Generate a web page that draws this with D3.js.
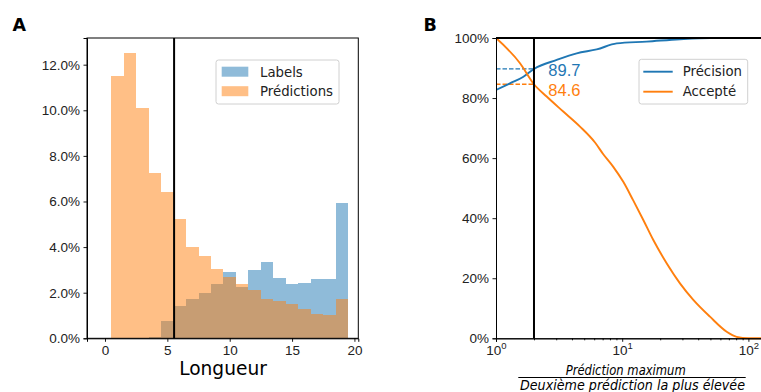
<!DOCTYPE html>
<html>
<head>
<meta charset="utf-8">
<script src="https://cdn.jsdelivr.net/npm/d3@7"></script>
<style>
  body { margin: 0; background: #fff; }
  svg { display: block; font-family: "DejaVu Sans", sans-serif; }
  .tick text { fill: #222; }
</style>
</head>
<body>
<svg id="chart" width="761" height="392"></svg>
<script>
// panel A : histogram of lengths
var lengths     = [ 1, 2, 3, 4, 5, 6, 7, 8, 9, 10, 11, 12, 13, 14, 15, 16, 17, 18, 19 ];
var labelPct    = [ 0, 0, 0.01, 0.07, 0.76, 1.42, 1.74, 2.0, 2.37, 2.89, 2.26, 3.0, 3.36, 2.64, 2.37, 2.43, 2.59, 2.59, 5.92 ];
var predPct     = [ 11.5, 12.53, 10.11, 7.24, 6.43, 5.22, 3.99, 3.6, 3.04, 2.68, 2.37, 2.1, 1.71, 1.62, 1.52, 1.3, 1.08, 1.04, 1.71 ];
var meanLength  = 5.54;
var xTicksA     = [ 0, 5, 10, 15, 20 ];
var yTicksA     = [ 0, 2, 4, 6, 8, 10, 12 ];

// panel B : precision / accepted vs ratio
var precRatio   = [ 1, 1.29, 1.65, 2.0, 3.03, 4.36, 6.28, 9.04, 15.6, 28.7, 50, 130 ];
var precValue   = [ 82.7, 84.9, 87.1, 89.7, 92.7, 94.9, 96.2, 98.2, 98.8, 99.6, 100, 100 ];
var accRatio    = [ 1, 1.55, 2, 2.52, 3.41, 4.63, 6.09, 7.08, 8.5, 10.2, 12.2, 14.7, 17.6, 22.5, 28.7, 36.6, 49.6, 67.3, 80.7, 100, 130 ];
var accValue    = [ 100, 91.6, 84.6, 80.5, 75.5, 70.5, 65.2, 61.3, 57.1, 52.1, 46.0, 39.4, 32.8, 25.0, 18.3, 12.8, 7.2, 2.2, 0.5, 0, 0 ];
var threshold   = 2;
var precAtThr   = 89.7;
var accAtThr    = 84.6;
var xTicksB     = [ 1, 10, 100 ];
var yTicksB     = [ 0, 20, 40, 60, 80, 100 ];

var blue   = '#1f77b4',
    orange = '#ff7f0e';

var svg = d3.select( '#chart' );

// ---------- panel A ----------
var xA = d3.scaleLinear().domain( [ -1.443, 20.31 ] ).range( [ 87, 358.3 ] );
var yA = d3.scaleLinear().domain( [ 0, 13.17 ] ).range( [ 338.3, 38 ] );

var gA = svg.append( 'g' );

function stepPoints( values ) {
	var pts = [];
	lengths.forEach( function( l, i ) {
		pts.push( [ l - 0.5, values[ i ] ] );
		pts.push( [ l + 0.5, values[ i ] ] );
	});
	return pts;
}

var histArea = d3.area()
	.x( function( d ) { return xA( d[ 0 ] ); } )
	.y0( yA( 0 ) )
	.y1( function( d ) { return yA( d[ 1 ] ); } );

gA.append( 'path' )
  .attr( 'd', histArea( stepPoints( labelPct ) ) )
  .attr( 'fill', blue ).attr( 'fill-opacity', 0.5 )
  .attr( 'shape-rendering', 'crispEdges' );

gA.append( 'path' )
  .attr( 'd', histArea( stepPoints( predPct ) ) )
  .attr( 'fill', orange ).attr( 'fill-opacity', 0.5 )
  .attr( 'shape-rendering', 'crispEdges' );

gA.append( 'line' )
  .attr( 'x1', xA( meanLength ) ).attr( 'x2', xA( meanLength ) )
  .attr( 'y1', yA.range()[ 0 ] ).attr( 'y2', yA.range()[ 1 ] )
  .attr( 'stroke', '#000' ).attr( 'stroke-width', 2 );

var xAxisA = d3.axisBottom( xA ).tickValues( xTicksA ).tickSize( 3.5 ).tickPadding( 3.5 );
var yAxisA = d3.axisLeft( yA ).tickValues( yTicksA ).tickSize( 3.5 ).tickPadding( 3.5 )
	.tickFormat( function( d ) { return d3.format( '.1f' )( d ) + '%'; } );

gA.append( 'g' ).attr( 'transform', 'translate(0,' + yA( 0 ) + ')' )
  .call( xAxisA ).call( styleAxis );
gA.append( 'g' ).attr( 'transform', 'translate(' + xA.range()[ 0 ] + ',0)' )
  .call( yAxisA ).call( styleAxis );

// frame
gA.append( 'rect' )
  .attr( 'x', xA.range()[ 0 ] ).attr( 'y', yA.range()[ 1 ] )
  .attr( 'width', xA.range()[ 1 ] - xA.range()[ 0 ] )
  .attr( 'height', yA.range()[ 0 ] - yA.range()[ 1 ] )
  .attr( 'fill', 'none' ).attr( 'stroke', '#000' ).attr( 'stroke-width', 1 );

gA.append( 'text' )
  .attr( 'x', 223 ).attr( 'y', 375 )
  .attr( 'text-anchor', 'middle' ).attr( 'font-size', 18.6 )
  .text( 'Longueur' );

// legend A
var legA = gA.append( 'g' );
legA.append( 'rect' )
  .attr( 'x', 216 ).attr( 'y', 60 ).attr( 'width', 123 ).attr( 'height', 44 )
  .attr( 'rx', 2.5 ).attr( 'fill', '#fff' ).attr( 'fill-opacity', 0.8 )
  .attr( 'stroke', '#d0d0d0' );
[ [ 'Labels', blue ], [ 'Prédictions', orange ] ].forEach( function( d, i ) {
	legA.append( 'rect' )
	  .attr( 'x', 221.7 ).attr( 'y', 66.7 + i * 19.5 ).attr( 'width', 26.6 ).attr( 'height', 10 )
	  .attr( 'fill', d[ 1 ] ).attr( 'fill-opacity', 0.5 );
	legA.append( 'text' )
	  .attr( 'x', 260 ).attr( 'y', 76.5 + i * 19.5 )
	  .attr( 'font-size', 13.3 ).attr( 'fill', '#222' )
	  .text( d[ 0 ] );
});

svg.append( 'text' )
  .attr( 'x', 12.5 ).attr( 'y', 30.7 )
  .attr( 'font-size', 17.5 ).attr( 'font-weight', 'bold' )
  .text( 'A' );

// ---------- panel B ----------
var xB = d3.scaleLog().domain( [ 1, Math.pow( 10, ( 762 - 496 ) / 126.2 ) ] ).range( [ 496, 762 ] );
var yB = d3.scaleLinear().domain( [ 0, 100 ] ).range( [ 338.3, 38 ] );

var gB = svg.append( 'g' );

svg.append( 'clipPath' ).attr( 'id', 'clipB' ).append( 'rect' )
  .attr( 'x', 496 ).attr( 'y', 30 ).attr( 'width', 270 ).attr( 'height', 312 );

var precData = precRatio.map( function( r, i ) { return [ r, precValue[ i ] ]; } );
var accData  = accRatio.map( function( r, i ) { return [ r, accValue[ i ] ]; } );

var line = d3.line()
	.x( function( d ) { return xB( d[ 0 ] ); } )
	.y( function( d ) { return yB( d[ 1 ] ); } )
	.curve( d3.curveMonotoneX );

var plotB = gB.append( 'g' ).attr( 'clip-path', 'url(#clipB)' );

// threshold guides
plotB.append( 'line' )
  .attr( 'x1', xB( 1 ) ).attr( 'x2', xB( threshold ) )
  .attr( 'y1', yB( precAtThr ) ).attr( 'y2', yB( precAtThr ) )
  .attr( 'stroke', blue ).attr( 'stroke-width', 1.3 ).attr( 'stroke-dasharray', '4.5,2' );
plotB.append( 'line' )
  .attr( 'x1', xB( 1 ) ).attr( 'x2', xB( threshold ) )
  .attr( 'y1', yB( accAtThr ) ).attr( 'y2', yB( accAtThr ) )
  .attr( 'stroke', orange ).attr( 'stroke-width', 1.3 ).attr( 'stroke-dasharray', '4.5,2' );

plotB.append( 'path' ).attr( 'd', line( precData ) )
  .attr( 'fill', 'none' ).attr( 'stroke', blue ).attr( 'stroke-width', 1.9 );
plotB.append( 'path' ).attr( 'd', line( accData ) )
  .attr( 'fill', 'none' ).attr( 'stroke', orange ).attr( 'stroke-width', 1.9 );

gB.append( 'line' )
  .attr( 'x1', xB( threshold ) ).attr( 'x2', xB( threshold ) )
  .attr( 'y1', yB( 0 ) ).attr( 'y2', yB( 100 ) )
  .attr( 'stroke', '#000' ).attr( 'stroke-width', 2 );
gB.append( 'line' )
  .attr( 'x1', xB( 1 ) ).attr( 'x2', 762 )
  .attr( 'y1', yB( 100 ) ).attr( 'y2', yB( 100 ) )
  .attr( 'stroke', '#000' ).attr( 'stroke-width', 2 );

gB.append( 'text' )
  .attr( 'x', 548.3 ).attr( 'y', 76 )
  .attr( 'font-family', '"Liberation Sans", Arial, sans-serif' ).attr( 'font-size', 16.5 )
  .attr( 'fill', blue ).text( precAtThr.toFixed( 1 ) );
gB.append( 'text' )
  .attr( 'x', 548.3 ).attr( 'y', 96 )
  .attr( 'font-family', '"Liberation Sans", Arial, sans-serif' ).attr( 'font-size', 16.5 )
  .attr( 'fill', orange ).text( accAtThr.toFixed( 1 ) );

// axes B
var minorB = [];
[ 1, 10, 100 ].forEach( function( p ) {
	for ( var k = 2; k < 10; k++ ) { if ( p * k < xB.domain()[ 1 ] ) minorB.push( p * k ); }
});

var xAxisB = d3.axisBottom( xB ).tickValues( xTicksB ).tickSize( 3.5 ).tickPadding( 3.5 ).tickFormat( '' );
var xMinorB = d3.axisBottom( xB ).tickValues( minorB ).tickSize( 2 ).tickFormat( '' );
var yAxisB = d3.axisLeft( yB ).tickValues( yTicksB ).tickSize( 3.5 ).tickPadding( 3.5 )
	.tickFormat( function( d ) { return d + '%'; } );

var gxB = gB.append( 'g' ).attr( 'transform', 'translate(0,' + yB( 0 ) + ')' ).call( xAxisB ).call( styleAxis );
gB.append( 'g' ).attr( 'transform', 'translate(0,' + yB( 0 ) + ')' ).call( xMinorB ).call( styleAxis );
gB.append( 'g' ).attr( 'transform', 'translate(' + xB( 1 ) + ',0)' ).call( yAxisB ).call( styleAxis );

// 10^k labels
gxB.selectAll( '.tick' ).each( function( d ) {
	var t = d3.select( this ).append( 'text' )
		.attr( 'y', 17 ).attr( 'text-anchor', 'middle' ).attr( 'font-size', 13.5 ).attr( 'fill', '#222' );
	t.append( 'tspan' ).text( '10' );
	t.append( 'tspan' ).attr( 'font-size', 9.5 ).attr( 'dy', -6 ).text( Math.round( Math.log10( d ) ) );
});

// fraction label
svg.append( 'text' )
  .attr( 'x', 625.7 ).attr( 'y', 374.5 )
  .attr( 'text-anchor', 'middle' ).attr( 'font-size', 13.4 ).attr( 'font-style', 'italic' )
  .attr( 'textLength', 120 ).attr( 'lengthAdjust', 'spacingAndGlyphs' )
  .text( 'Prédiction maximum' );
svg.append( 'line' )
  .attr( 'x1', 518.3 ).attr( 'x2', 745.7 ).attr( 'y1', 377.5 ).attr( 'y2', 377.5 )
  .attr( 'stroke', '#000' ).attr( 'stroke-width', 1 );
svg.append( 'text' )
  .attr( 'x', 632.5 ).attr( 'y', 390 )
  .attr( 'text-anchor', 'middle' ).attr( 'font-size', 13.4 ).attr( 'font-style', 'italic' )
  .attr( 'textLength', 225 ).attr( 'lengthAdjust', 'spacingAndGlyphs' )
  .text( 'Deuxième prédiction la plus élevée' );

// legend B
var legB = gB.append( 'g' );
legB.append( 'rect' )
  .attr( 'x', 639 ).attr( 'y', 59.3 ).attr( 'width', 108.7 ).attr( 'height', 44.7 )
  .attr( 'rx', 2.5 ).attr( 'fill', '#fff' ).attr( 'fill-opacity', 0.8 )
  .attr( 'stroke', '#d0d0d0' );
[ [ 'Précision', blue ], [ 'Accepté', orange ] ].forEach( function( d, i ) {
	legB.append( 'line' )
	  .attr( 'x1', 643.3 ).attr( 'x2', 672.7 )
	  .attr( 'y1', 71.7 + i * 20 ).attr( 'y2', 71.7 + i * 20 )
	  .attr( 'stroke', d[ 1 ] ).attr( 'stroke-width', 1.9 );
	legB.append( 'text' )
	  .attr( 'x', 682.7 ).attr( 'y', 76.4 + i * 20 )
	  .attr( 'font-size', 13.3 ).attr( 'fill', '#222' )
	  .text( d[ 0 ] );
});

svg.append( 'text' )
  .attr( 'x', 423.5 ).attr( 'y', 30.7 )
  .attr( 'font-size', 17.5 ).attr( 'font-weight', 'bold' )
  .text( 'B' );

function styleAxis( g ) {
	g.select( '.domain' ).attr( 'stroke', '#000' ).attr( 'stroke-width', 1 );
	g.selectAll( '.tick line' ).attr( 'stroke', '#000' ).attr( 'stroke-width', 0.9 );
	g.selectAll( '.tick text' ).attr( 'font-size', 13.5 ).attr( 'fill', '#222' );
}
</script>
</body>
</html>
